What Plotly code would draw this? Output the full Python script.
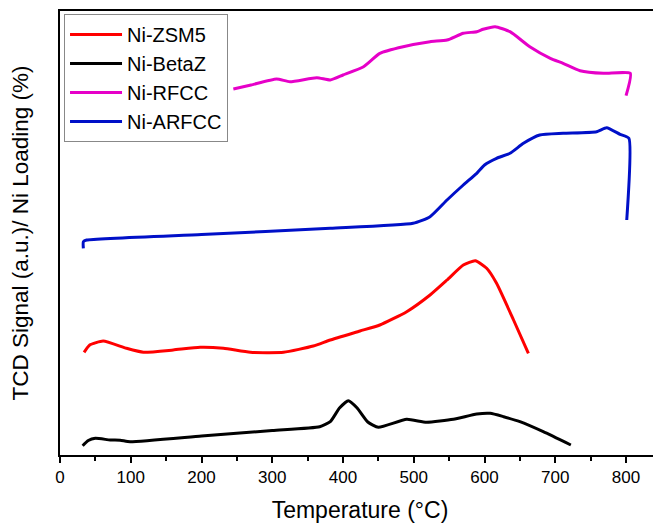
import plotly.graph_objects as go

# Temperatures (°C) and signals (arbitrary units, offset stacking as in the figure)
zsm5_T = [34, 42, 61, 94, 118, 160, 198, 231, 269, 316, 358, 382, 424, 452, 490, 523, 547, 570, 587, 603, 617, 641, 662]
zsm5_y = [102.7, 110, 114, 106.7, 102.7, 105, 107.7, 106.7, 102.7, 102.7, 109, 115, 124, 130, 143.3, 160, 175, 190, 194.3, 186.7, 171.7, 135, 101.7]

betaz_T = [32, 40, 50, 71, 85, 99, 200, 300, 367, 382, 395, 407.5, 420, 435, 450, 490, 518, 556, 589, 608, 627, 650, 683, 722]
betaz_y = [9.3, 14.5, 16.7, 15, 14.8, 13.3, 19, 24.5, 28.3, 33.3, 47, 54.3, 47, 33, 27.7, 35.7, 32.7, 35.7, 41, 41.7, 38.3, 33.3, 23.3, 10]

rfcc_T = [245, 270, 306, 325, 363, 382, 400, 429, 452, 485, 523, 547, 570, 589, 598, 615, 636, 664, 693, 711, 735, 768, 806, 800]
rfcc_y = [366, 370, 376, 373.3, 377.3, 375, 380, 388.3, 401.7, 408.3, 413.3, 415, 421.7, 423.3, 425.7, 428.3, 423.3, 408.3, 396.7, 391.7, 384.3, 381.7, 381.7, 359.3]

arfcc_T = [33, 33, 37.7, 200, 382, 499, 523, 547, 570, 589, 600, 617, 636, 655, 678, 711, 758.5, 772.6, 791.5, 804, 801]
arfcc_y = [206.7, 213.3, 215, 220.5, 226.7, 231.7, 238.3, 255, 270, 281.7, 290, 296.7, 301.7, 311.7, 320, 321.7, 323.3, 327.3, 320.7, 316.7, 235]

names = ["Ni-ZSM5", "Ni-BetaZ", "Ni-RFCC", "Ni-ARFCC"]
colors = ["#ff0000", "#000000", "#e600c8", "#0010c8"]
x_ticks = [0, 100, 200, 300, 400, 500, 600, 700, 800]
x_minor = [50, 150, 250, 350, 450, 550, 650, 750, 850]

fig = go.Figure()
for name, T, y, c in zip(names, [zsm5_T, betaz_T, rfcc_T, arfcc_T],
                         [zsm5_y, betaz_y, rfcc_y, arfcc_y], colors):
    fig.add_trace(go.Scatter(x=T, y=y, mode="lines", name=name,
                             line=dict(color=c, width=3, shape="spline", smoothing=0.5)))

fig.update_layout(
    width=653, height=515,
    margin=dict(l=52, r=1, t=3, b=68),
    plot_bgcolor="white", paper_bgcolor="white",
    font=dict(family="Arial, Liberation Sans, sans-serif", color="black"),
    showlegend=True,
    legend=dict(x=0.0067, y=0.993, xanchor="left", yanchor="top",
                bgcolor="white", bordercolor="#888888", borderwidth=1,
                font=dict(size=20), itemwidth=52, tracegroupgap=0),
    xaxis=dict(range=[0, 848], tickvals=x_ticks,
               ticks="outside", ticklen=6, tickwidth=1.5, tickcolor="black",
               minor=dict(tickvals=x_minor, ticks="outside", ticklen=4, tickcolor="black", tickwidth=1.5),
               showline=True, linecolor="black", linewidth=2, mirror=True,
               showgrid=False, zeroline=False, tickfont=dict(size=17),
               title=dict(text="Temperature (°C)", font=dict(size=23), standoff=17)),
    yaxis=dict(range=[0, 444], showticklabels=False, ticks="",
               showline=True, linecolor="black", linewidth=2,
               showgrid=False, zeroline=False,
               title=dict(text="TCD Signal (a.u.)/ Ni Loading (%)", font=dict(size=22.5), standoff=24)),
    shapes=[dict(type="line", xref="paper", yref="paper", x0=1, x1=1, y0=0, y1=1,
                 line=dict(color="#cccccc", width=1))],
)

fig.write_html("out.html")
